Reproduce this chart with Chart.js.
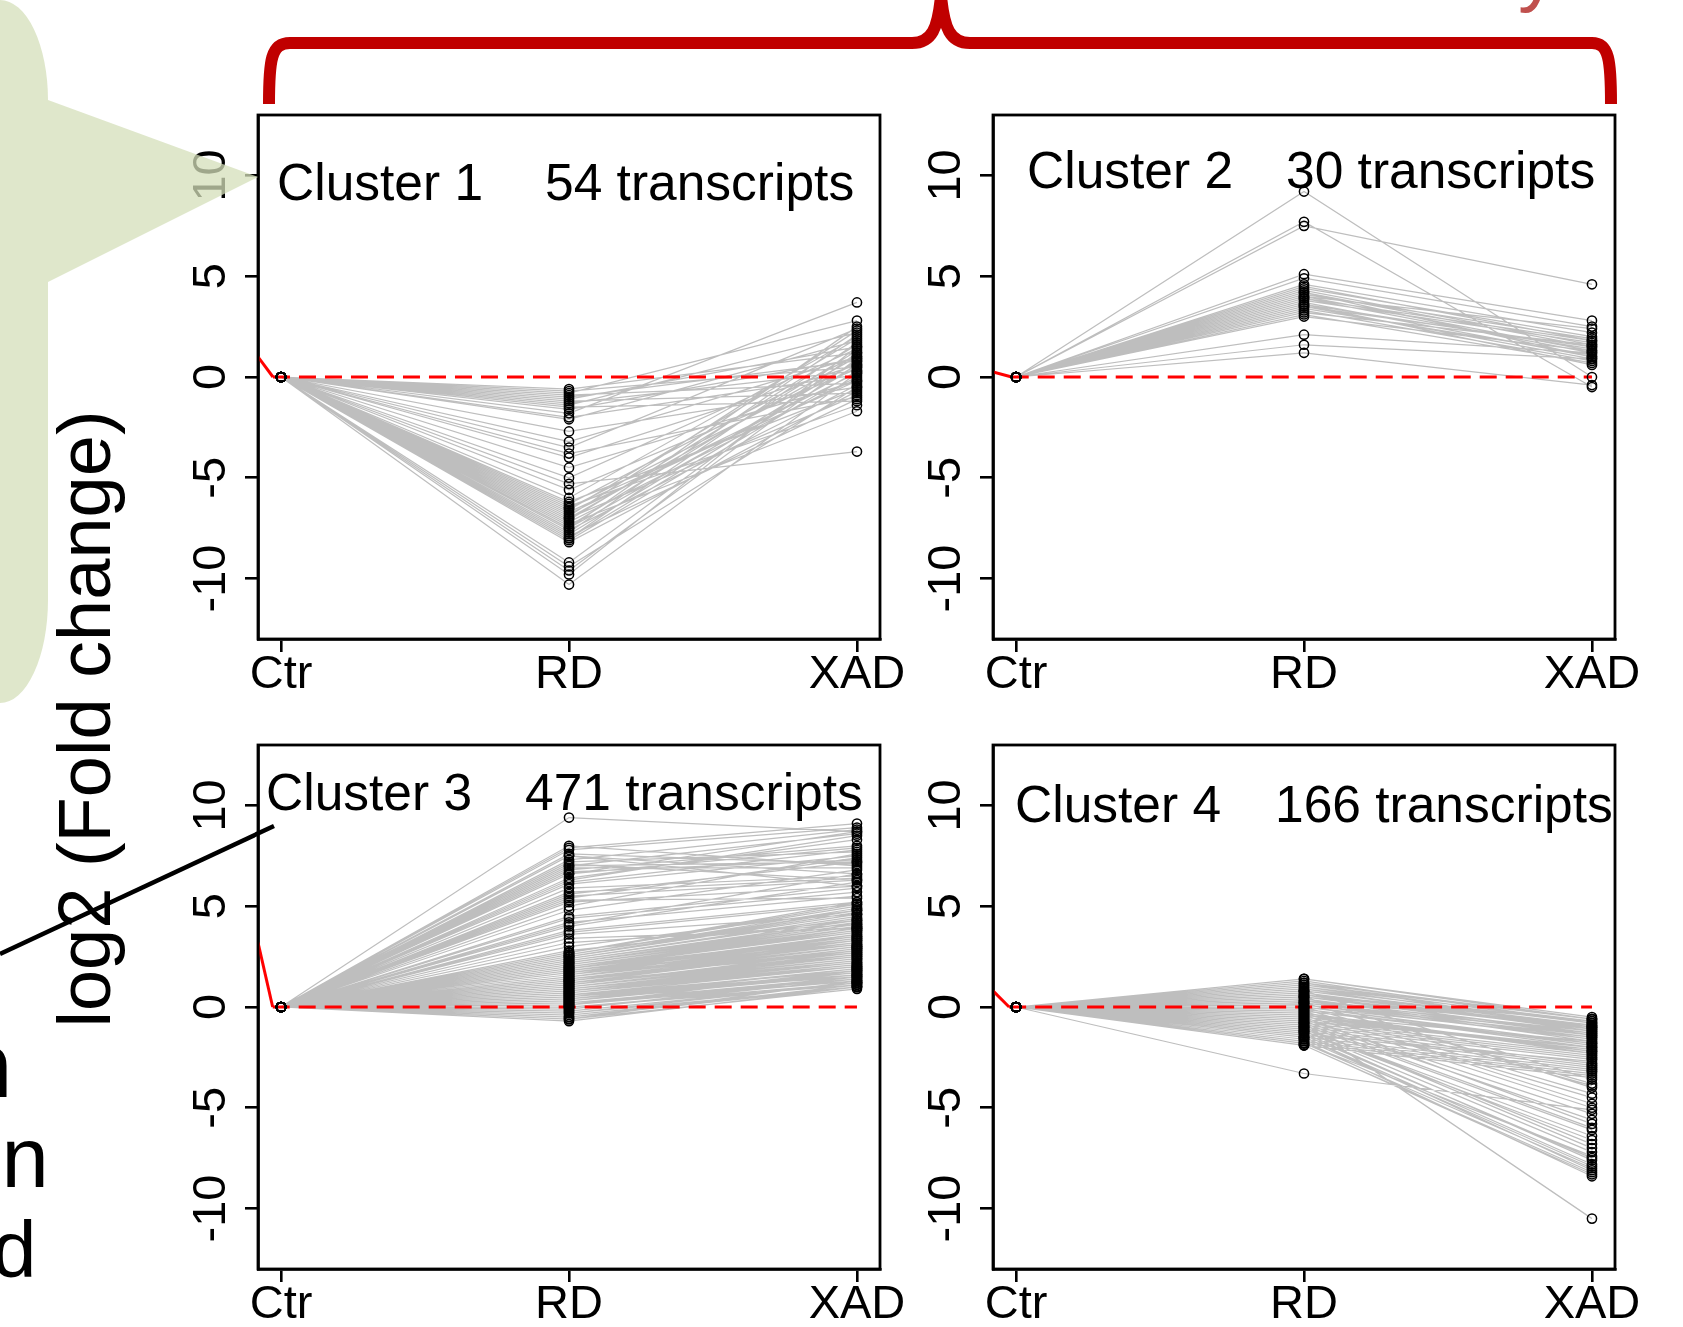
<!DOCTYPE html>
<html><head><meta charset="utf-8">
<script src="https://cdn.jsdelivr.net/npm/chart.js@4.4.1/dist/chart.umd.min.js"></script>
<style>
html,body{margin:0;padding:0;background:#fff;}
#wrap{position:relative;width:1683px;height:1327px;overflow:hidden;background:#fff;}
canvas{position:absolute;}
#ov{position:absolute;left:0;top:0;pointer-events:none;}
</style></head><body>
<div id="wrap">
<canvas id="c1" width="822" height="624" style="left:128px;top:95px;width:822px;height:624px"></canvas>
<canvas id="c2" width="822" height="624" style="left:863px;top:95px;width:822px;height:624px"></canvas>
<canvas id="c3" width="822" height="624" style="left:128px;top:725px;width:822px;height:624px"></canvas>
<canvas id="c4" width="822" height="624" style="left:863px;top:725px;width:822px;height:624px"></canvas>
<svg id="ov" width="1683" height="1327" viewBox="0 0 1683 1327" xmlns="http://www.w3.org/2000/svg">
  <text transform="translate(110,719) rotate(-90)" text-anchor="middle" font-family="Liberation Sans, Arial, sans-serif" font-size="74" fill="#000">log2 (Fold change)</text>
  <text x="-44" y="1097" font-family="Liberation Sans, Arial, sans-serif" font-weight="bold" font-size="92" fill="#000">n</text>
  <text x="1.5" y="1187" font-family="Liberation Sans, Arial, sans-serif" font-size="85" fill="#000">n</text>
  <text x="-8" y="1277" font-family="Liberation Sans, Arial, sans-serif" font-size="80" fill="#000">d</text>
  <text x="1518" y="-4" font-family="Liberation Sans, Arial, sans-serif" font-size="80" fill="#c0504d">y</text>
  <path d="M0 0 A48 100 0 0 1 48 100 L258 177 L48 282 L48 600 A48 103 0 0 1 0 703 Z" fill="rgba(212,223,186,0.75)"/>
  <path d="M269 104 C269 60 271 43 290 43 L912 43 C932 43 938 28 941 -4 C944 28 950 43 970 43 L1592 43 C1609 43 1611 60 1611 104" fill="none" stroke="#c00000" stroke-width="12"/>
  <line x1="0" y1="954" x2="274" y2="826" stroke="#000" stroke-width="4.5"/>
</svg>
</div>
<script>
const xLabels = ['Ctr', 'RD', 'XAD'];
const yTicks = [-10, -5, 0, 5, 10];
const clusterNames = ['Cluster 1', 'Cluster 2', 'Cluster 3', 'Cluster 4'];
const transcriptLabels = ['54 transcripts', '30 transcripts', '471 transcripts', '166 transcripts'];

// red reference line: value at left box edge, x where it meets 0
const redStartY = [1.0, 0.25, 3.2, 0.8];
const redEndX = [0.972, 0.985, 0.971, 0.976];

const rd1 = [-0.6,-0.7,-0.8,-0.9,-1.0,-1.1,-1.2,-1.3,-1.4,-1.5,-1.6,-1.8,-2.0,-2.1,
 -2.7,-3.2,-3.5,-3.8,-4.0,-4.5,-5.0,-5.3,-5.6,
 -6.0,-6.2,-6.3,-6.4,-6.5,-6.6,-6.7,-6.8,-6.9,-7.0,-7.1,-7.2,-7.3,-7.4,-7.5,-7.6,-7.7,-7.8,-7.9,-8.0,-8.1,-8.2,-7.0,-7.5,-6.5,-8.0,
 -9.2,-9.4,-9.6,-9.8,-10.3];
const xad1 = [1.2,0.5,2.8,-0.3,0.8,1.5,-0.8,0.3,2.2,-1.2,0.9,3.7,0.1,1.8,
 -0.5,1.0,2.4,-1.0,0.6,-0.2,1.4,-3.7,0.4,
 2.0,-0.6,1.1,-1.4,0.7,1.9,-0.1,0.2,2.3,-0.9,1.6,0.0,-1.7,1.3,0.5,-0.4,2.1,0.8,-1.1,1.7,0.3,-0.7,1.0,2.5,-0.2,0.6,
 1.2,-0.5,0.9,1.5,0.2];

const rd2 = [9.2,7.7,7.5,5.1,4.9,4.6,4.5,4.4,4.3,4.2,
 4.1,4.0,4.0,3.9,3.8,3.7,3.6,3.5,3.4,3.3,
 3.2,3.1,3.0,3.9,4.2,3.6,2.1,1.6,1.2,3.5];
const xad2 = [0.0,-0.5,4.6,2.8,2.5,2.2,1.8,2.0,1.6,1.5,
 1.9,1.3,2.4,1.2,1.7,1.0,1.4,0.9,1.1,0.8,
 1.6,0.7,1.3,1.8,1.0,0.6,1.2,0.9,-0.4,1.5];

const rd3 = [0.1,1.3,2.2,0.6,-0.3,1.8,2.5,0.9,0.2,1.5,
 2.0,-0.5,0.7,1.1,2.6,0.4,1.9,0.0,1.4,2.3,
 0.8,-0.1,1.6,2.1,0.3,1.2,2.7,0.5,-0.6,1.7,
 1.0,2.4,0.2,1.3,-0.2,0.9,2.2,1.5,0.6,1.8,
 0.1,2.0,1.1,-0.4,0.7,2.5,1.4,0.3,1.9,0.8,
 2.6,0.0,1.2,1.6,-0.7,0.5,2.3,1.0,0.4,2.1,
 1.7,0.9,-0.3,1.3,2.4,0.2,1.5,0.6,2.0,1.1,
 0.7,1.8,2.7,0.1,1.4,-0.1,0.8,2.2,1.6,0.3,
 1.2,2.5,0.5,1.9,0.0,1.0,2.3,-0.5,1.7,0.4,
 2.1,0.9,1.3,0.2,2.6,1.5,0.6,1.8,-0.2,1.1,
 0.8,2.4,0.3,1.4,2.0,0.7,-0.6,1.6,1.2,2.2,
 0.1,1.9,0.5,2.7,1.0,0.4,1.7,2.5,0.0,1.3,
 3.0,4.2,5.6,6.8,7.5,3.4,4.8,6.1,7.0,8.0,
 3.8,5.2,6.4,7.2,4.5,5.9,6.6,7.8,3.2,
 4.0,5.4,6.9,3.6,6.2,7.1,7.9,
 4.4,5.7,7.6,5.0,7.3,2.8,
 5.3,6.7,4.1,6.3,7.0,
 5.5,7.5,6.6,3.7,9.4];
const xad3 = [1.8,2.9,4.1,1.5,1.0,3.3,4.6,2.2,1.3,3.0,
 3.8,1.1,2.0,2.6,4.9,1.6,3.5,1.2,2.8,4.3,
 2.1,1.4,3.1,3.9,1.7,2.5,5.1,1.9,0.9,3.4,
 2.4,4.4,1.5,2.9,1.2,2.3,4.0,3.2,1.8,3.6,
 1.3,3.7,2.7,1.0,2.0,4.7,3.0,1.6,3.8,2.2,
 4.8,1.1,2.6,3.3,1.0,1.9,4.2,2.5,1.7,4.0,
 3.5,2.4,1.2,2.8,4.5,1.4,3.1,2.0,3.9,2.7,
 2.1,3.4,5.0,1.3,3.0,1.5,2.3,4.1,3.6,1.8,
 2.9,4.6,1.7,3.7,1.1,2.6,4.3,1.0,3.2,1.9,
 4.0,2.2,3.0,1.4,4.9,3.3,1.6,3.5,1.2,2.8,
 2.0,4.4,1.8,2.7,3.8,2.1,1.3,3.4,2.5,4.2,
 1.5,3.9,1.9,5.2,2.4,1.6,3.1,4.8,1.2,2.9,
 4.8,5.5,7.2,8.0,6.6,3.9,6.8,7.5,8.6,7.0,
 5.2,6.0,8.3,7.7,5.9,6.5,7.9,8.9,4.1,
 6.2,7.4,6.9,4.6,7.8,6.3,9.1,
 5.7,6.4,7.1,7.6,8.8,4.3,
 5.4,7.3,6.6,8.5,7.2,
 6.3,6.0,8.7,5.1,8.7];

const rd4 = [0.3,-0.5,1.2,-1.1,0.0,0.8,-1.6,0.5,-0.2,1.0,
 -0.8,0.2,-1.3,0.6,-0.4,1.4,-1.0,0.1,-1.8,0.9,
 -0.6,0.4,-1.2,0.7,-0.1,1.1,-1.5,0.3,-0.9,0.0,
 1.3,-0.3,-1.7,0.5,-0.7,0.2,-1.4,0.8,-0.5,1.2,
 -1.0,0.1,-0.2,0.6,-1.9,0.4,-0.8,1.0,-1.1,0.0,
 0.9,-0.6,-1.3,0.3,-0.4,0.7,-1.6,0.2,1.4,-0.9,
 -0.1,0.5,-1.2,1.1,-0.7,0.0,-1.5,0.8,-0.3,0.6,
 -1.5,-0.8,-1.9,0.2,-1.2,-0.3,-1.7,-1.0,0.5,-1.4,
 -0.6,-1.8,-0.1,-1.1,-1.6,0.8,-0.9,-1.3,-0.4,-1.9,
 -1.0,-0.2,-1.5,-0.7,-1.8,0.0,-1.2,-0.5,-3.3,-0.8];
const xad4 = [-1.2,-2.0,-0.6,-2.8,-1.5,-0.9,-3.2,-1.1,-1.8,-0.7,
 -2.4,-1.3,-3.0,-1.0,-2.2,-0.5,-2.6,-1.6,-3.4,-0.8,
 -2.1,-1.4,-2.9,-1.2,-1.9,-0.6,-3.1,-1.7,-2.5,-1.5,
 -0.8,-2.3,-3.3,-1.0,-2.0,-1.3,-2.7,-0.9,-2.2,-1.1,
 -2.6,-1.4,-1.8,-0.7,-3.5,-1.6,-2.4,-1.0,-2.8,-1.9,
 -1.2,-2.1,-3.0,-0.9,-1.7,-1.1,-3.2,-1.5,-0.6,-2.5,
 -2.0,-1.3,-2.9,-0.8,-2.3,-1.8,-3.1,-1.0,-2.2,-1.4,
 -7.8,-6.0,-8.2,-3.8,-7.2,-4.5,-8.4,-6.8,-4.0,-7.5,
 -5.3,-8.0,-4.3,-6.4,-7.9,-3.6,-6.1,-7.6,-5.0,-8.3,
 -7.0,-4.8,-8.1,-5.6,-7.4,-3.9,-6.6,-5.8,-5.1,-10.5];

const FONT = '"Liberation Sans", Arial, Helvetica, sans-serif';
Chart.defaults.font.family = FONT;

const panelPlugin = {
  id: 'panel',
  afterDraw(chart, args, o) {
    const ctx = chart.ctx, a = chart.chartArea, ys = chart.scales.y;
    ctx.save();
    ctx.strokeStyle = '#000';
    ctx.lineWidth = 2.8;
    ctx.strokeRect(a.left, a.top, a.right - a.left, a.bottom - a.top);
    ctx.fillStyle = '#000';
    ctx.font = '47px ' + FONT;
    ctx.textAlign = 'center';
    ctx.textBaseline = 'alphabetic';
    ys.ticks.forEach(t => {
      const py = ys.getPixelForValue(t.value);
      ctx.save();
      ctx.translate(a.left - 33, py);
      ctx.rotate(-Math.PI / 2);
      ctx.fillText(String(t.value), 0, 0);
      ctx.restore();
    });
    ctx.font = '51.5px ' + FONT;
    ctx.textAlign = 'left';
    ctx.fillText(o.name, o.nameX, o.baseY);
    ctx.fillText(o.count, o.countX, o.baseY);
    ctx.restore();
  }
};

function makePanel(id, k, rd, xad, titlePos) {
  const pts = [], lines = [];
  for (let i = 0; i < rd.length; i++) {
    pts.push({x: 1, y: 0}, {x: 2, y: rd[i]}, {x: 3, y: xad[i]});
    lines.push({x: 1, y: 0}, {x: 2, y: rd[i]}, {x: 3, y: xad[i]}, {x: 3, y: null});
  }
  const red = [{x: 0.92, y: redStartY[k]}, {x: redEndX[k], y: 0}, {x: 3, y: 0}];
  new Chart(document.getElementById(id), {
    type: 'line',
    data: {
      datasets: [
        {data: pts, showLine: false, pointRadius: 4.6, pointBorderWidth: 1.5,
         pointBorderColor: '#000', pointBackgroundColor: 'rgba(0,0,0,0)', pointStyle: 'circle'},
        {data: red, borderColor: '#ff0000', borderWidth: 3, pointRadius: 0, fill: false,
         segment: {borderDash: c => c.p0DataIndex === 0 ? undefined : [17, 9]}},
        {data: lines, borderColor: '#bebebe', borderWidth: 1.25, pointRadius: 0, fill: false, spanGaps: false, tension: 0}
      ]
    },
    options: {
      responsive: false, animation: false, events: [],
      layout: {padding: {top: 20, right: 70, left: 0, bottom: 0}},
      plugins: {
        legend: {display: false}, tooltip: {enabled: false},
        panel: {name: clusterNames[k], count: transcriptLabels[k],
                nameX: titlePos[0], countX: titlePos[1], baseY: titlePos[2]}
      },
      scales: {
        x: {
          type: 'linear', min: 0.92, max: 3.08,
          afterBuildTicks: s => { s.ticks = [1, 2, 3].map(v => ({value: v})); },
          ticks: {callback: (v, i) => xLabels[i], font: {size: 47}, color: '#000',
                  padding: -5, maxRotation: 0, minRotation: 0, autoSkip: false},
          grid: {drawOnChartArea: false, drawTicks: true, tickLength: 13, color: '#000', lineWidth: 2.6},
          border: {display: true, color: '#000', width: 2.8},
          afterFit: s => { s.height = 80; }
        },
        y: {
          type: 'linear', min: -13, max: 13,
          afterBuildTicks: s => { s.ticks = yTicks.map(v => ({value: v})); },
          ticks: {display: false},
          grid: {drawOnChartArea: false, drawTicks: true, tickLength: 13, color: '#000', lineWidth: 2.6},
          border: {display: true, color: '#000', width: 2.8},
          afterFit: s => { s.width = 130; }
        }
      }
    },
    plugins: [panelPlugin]
  });
}

// title positions relative to each canvas: [name x, count x, baseline y]
makePanel('c1', 0, rd1, xad1, [149, 417, 105]);
makePanel('c2', 1, rd2, xad2, [164, 423, 93]);
makePanel('c3', 2, rd3, xad3, [138, 397, 85]);
makePanel('c4', 3, rd4, xad4, [152, 412, 97]);
</script>
</body></html>
